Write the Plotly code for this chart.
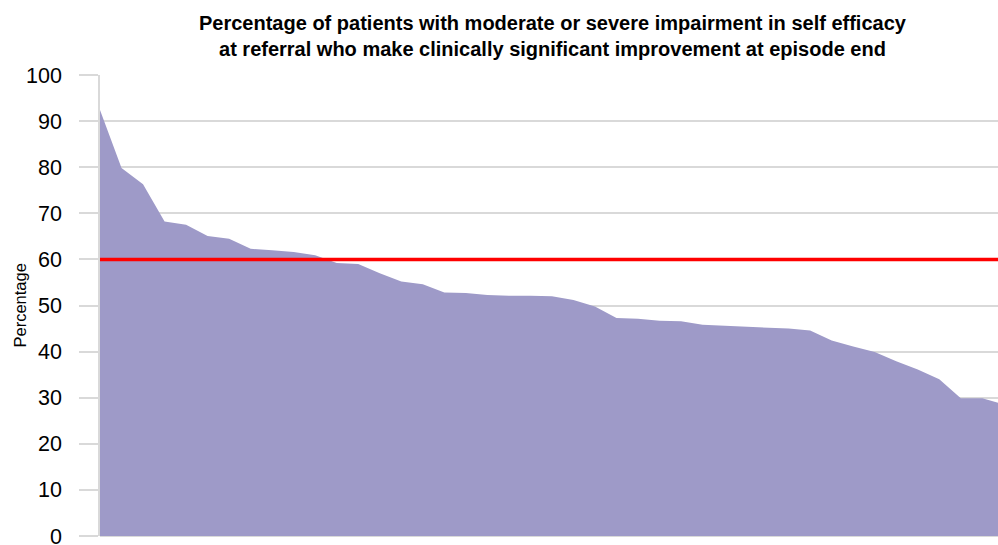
import plotly.graph_objects as go

# Data (sorted provider percentages)
providers = list(range(43))
percentages = [92.4, 79.8, 76.3, 68.2, 67.5, 65.1, 64.5, 62.3, 62.0, 61.6,
               60.9, 59.2, 59.0, 57.0, 55.2, 54.6, 52.8, 52.7, 52.3, 52.1,
               52.1, 52.0, 51.2, 49.8, 47.3, 47.1, 46.7, 46.6, 45.8, 45.6,
               45.5, 45.3, 45.0, 44.6, 42.4, 41.1, 39.9, 37.9, 36.1, 34.0,
               29.9, 29.9, 28.5]
target_value = 60
y_ticks = [0, 10, 20, 30, 40, 50, 60, 70, 80, 90, 100]

title_line1 = "Percentage of patients with moderate or severe impairment in self efficacy"
title_line2 = "at referral who make clinically significant improvement at episode end"

W, H = 998, 545
L, R, T, B = 100, 0, 75, 9
plot_w = W - L - R
plot_h = H - T - B

fig = go.Figure()
fig.add_trace(go.Scatter(
    x=providers, y=percentages, mode="lines", fill="tozeroy",
    line=dict(width=0, color="#9e9ac8"), fillcolor="#9e9ac8",
    hoverinfo="skip", showlegend=False))
fig.add_trace(go.Scatter(
    x=[providers[0], providers[-1]], y=[target_value, target_value], mode="lines",
    line=dict(width=3.5, color="#ff0000"), hoverinfo="skip", showlegend=False))

fig.update_layout(
    width=W, height=H,
    margin=dict(l=L, r=R, t=T, b=B, autoexpand=False),
    paper_bgcolor="white", plot_bgcolor="white",
    font=dict(family="Liberation Sans, Arial, sans-serif", color="#000000"),
    xaxis=dict(range=[0, plot_w / 21.52], showgrid=False, zeroline=False,
               showticklabels=False, ticks="", showline=False),
    yaxis=dict(range=[0, 100], tickvals=y_ticks, showgrid=True,
               gridcolor="#d9d9d9", gridwidth=1.5,
               zeroline=True, zerolinecolor="#d9d9d9", zerolinewidth=1.5,
               showline=True, linecolor="#d9d9d9", linewidth=1.5,
               ticks="outside", ticklen=19, tickcolor="#d9d9d9", tickwidth=1.5,
               ticklabelstandoff=13, ticklabeloverflow="allow",
               tickfont=dict(size=21.5, color="#000000")),
    annotations=[
        dict(text="<b>" + title_line1 + "</b><br><b>" + title_line2 + "</b>",
             xref="paper", yref="paper", x=(553 - L) / plot_w, y=(H - B - 36.5) / plot_h,
             xanchor="center", yanchor="middle", showarrow=False,
             font=dict(size=20, color="#000000")),
        dict(text="Percentage", xref="paper", yref="paper",
             x=(19 - L) / plot_w, y=0.5, xanchor="center", yanchor="middle",
             textangle=-90, showarrow=False, font=dict(size=16.5, color="#000000")),
    ],
)

fig.write_html("out.html", config={"displayModeBar": False},
               post_script="document.body.style.margin='0px';document.body.style.padding='0px';")
